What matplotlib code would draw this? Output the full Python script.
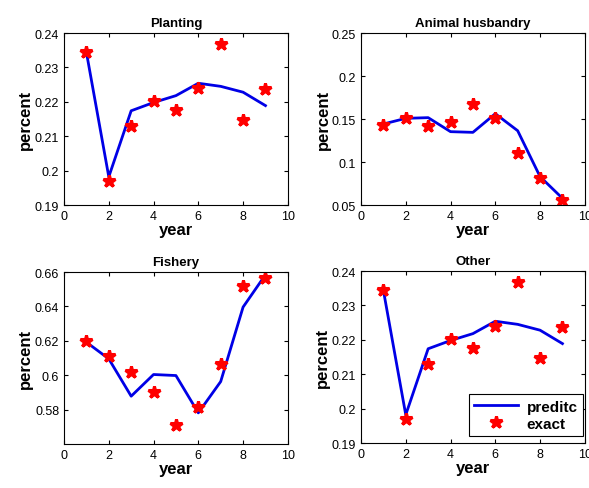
import numpy as np
import matplotlib
matplotlib.use("Agg")
import matplotlib.pyplot as plt

plt.rcParams['font.family'] = ['Liberation Sans', 'DejaVu Sans']

years = [1, 2, 3, 4, 5, 6, 7, 8, 9]

planting_pred = [0.2344, 0.1982, 0.2174, 0.2198, 0.2218, 0.2254, 0.2245, 0.2228, 0.2189]
planting_exact = [0.2344, 0.1971, 0.2129, 0.2203, 0.2176, 0.2239, 0.2367, 0.2146, 0.2236]

animal_pred = [0.1442, 0.1508, 0.1516, 0.1353, 0.1345, 0.1562, 0.1364, 0.0830, 0.0578]
animal_exact = [0.1434, 0.1512, 0.1422, 0.1469, 0.1671, 0.1508, 0.1109, 0.0814, 0.0558]

fishery_pred = [0.6192, 0.6095, 0.5878, 0.6004, 0.5998, 0.5781, 0.5963, 0.6396, 0.6584]
fishery_exact = [0.6196, 0.6111, 0.6021, 0.5905, 0.5711, 0.5817, 0.6066, 0.6518, 0.6565]

other_pred = planting_pred
other_exact = planting_exact

panels = [
    ("Planting", planting_pred, planting_exact, (0.19, 0.24), [0.19, 0.2, 0.21, 0.22, 0.23, 0.24], ["0.19", "0.2", "0.21", "0.22", "0.23", "0.24"]),
    ("Animal husbandry", animal_pred, animal_exact, (0.05, 0.25), [0.05, 0.1, 0.15, 0.2, 0.25], ["0.05", "0.1", "0.15", "0.2", "0.25"]),
    ("Fishery", fishery_pred, fishery_exact, (0.56, 0.66), [0.58, 0.6, 0.62, 0.64, 0.66], ["0.58", "0.6", "0.62", "0.64", "0.66"]),
    ("Other", other_pred, other_exact, (0.19, 0.24), [0.19, 0.2, 0.21, 0.22, 0.23, 0.24], ["0.19", "0.2", "0.21", "0.22", "0.23", "0.24"]),
]

# axes rectangles in figure fractions (left, bottom, width, height)
rects = [
    (0.1087, 0.5787, 0.380, 0.3517),
    (0.6129, 0.5787, 0.380, 0.3517),
    (0.1087, 0.0900, 0.380, 0.3517),
    (0.6129, 0.0920, 0.380, 0.3517),
]

fig = plt.figure(figsize=(5.89, 4.89), dpi=100)

for (title, pred, exact, ylim, yt, ytl), rect in zip(panels, rects):
    ax = fig.add_axes(rect)
    ax.plot(years, pred, color='#0000e6', linewidth=2, label='preditc')
    ax.plot(years, exact, linestyle='none', marker='*', markersize=9,
            markeredgewidth=2.2, color='red', markerfacecolor='red', label='exact')
    ax.set_xlim(0, 10)
    ax.set_ylim(*ylim)
    ax.set_xticks([0, 2, 4, 6, 8, 10])
    ax.set_yticks(yt)
    ax.set_yticklabels(ytl)
    ax.tick_params(direction='in', labelsize=9, length=3, top=True, right=True)
    ax.set_title(title, fontsize=9.5, fontweight='bold', pad=5)
    ax.set_xlabel('year', fontsize=12, fontweight='bold', labelpad=0)
    ax.set_ylabel('percent', fontsize=12, fontweight='bold', labelpad=1)
    if title == "Other":
        leg = ax.legend(loc='lower right', bbox_to_anchor=(0.992, 0.04),
                        fancybox=False, edgecolor='black', framealpha=1,
                        borderaxespad=0, borderpad=0.35, labelspacing=0.2,
                        handlelength=2.9, handletextpad=0.55,
                        prop={'weight': 'bold', 'size': 11})
        leg.get_frame().set_linewidth(0.8)

fig.savefig('out.png', dpi=100)
